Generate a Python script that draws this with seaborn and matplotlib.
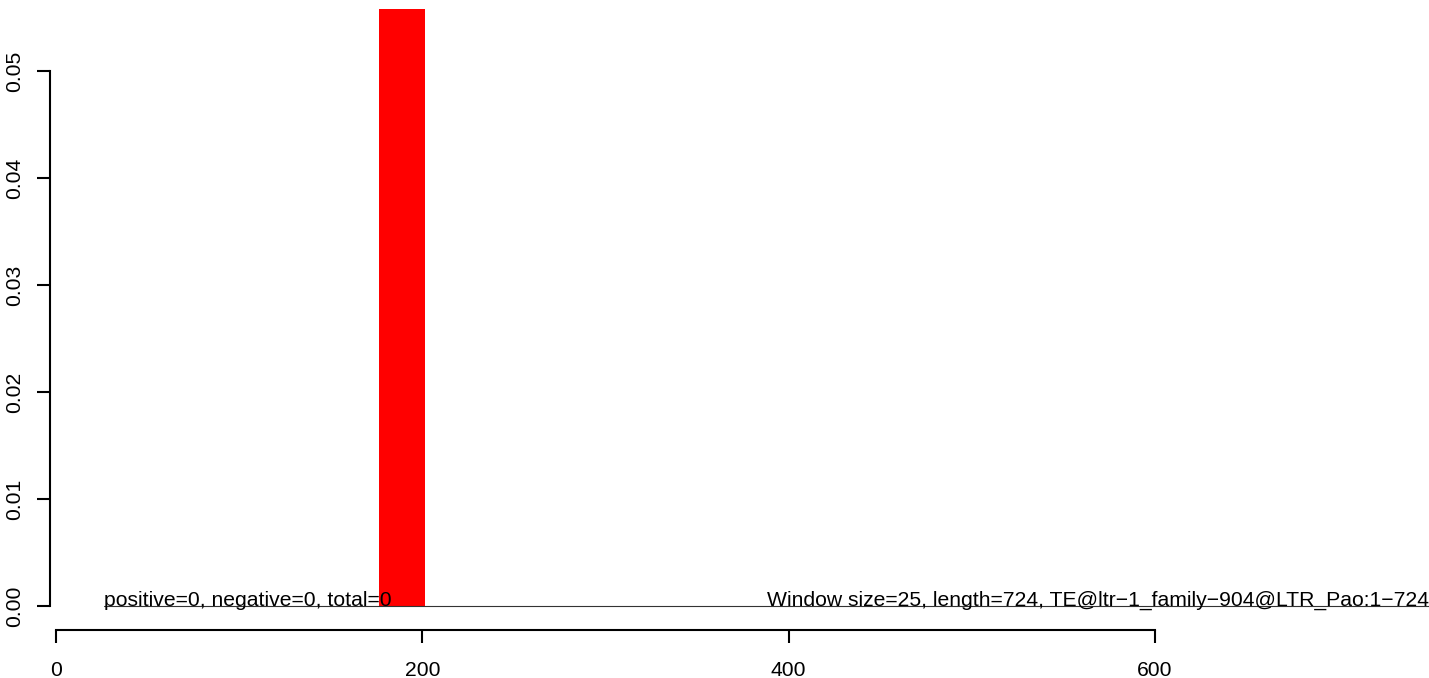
import matplotlib
matplotlib.use("Agg")
import matplotlib.pyplot as plt
import seaborn as sns

# Data
line_x = [26, 750]          # coverage trace across the element
line_y = [0.0, 0.0]
bar_left = [176.5]          # single window hit
bar_width = 25
bar_height = [0.06]         # goes past the top of the plot region
x_ticks = [0, 200, 400, 600]
y_ticks = [0.00, 0.01, 0.02, 0.03, 0.04, 0.05]
left_text = "positive=0, negative=0, total=0"
right_text = "Window size=25, length=724, TE@ltr\u22121_family\u2212904@LTR_Pao:1\u2212724"

sns.set_style("white")
plt.rcParams['font.family'] = ['Liberation Sans', 'DejaVu Sans']
plt.rcParams['text.color'] = 'black'

fig = plt.figure(figsize=(14.29, 6.78), dpi=100)
ax = fig.add_axes([0, 48 / 678, 1, 621 / 678])

ax.bar(bar_left, bar_height, width=bar_width, align='edge', color='#ff0000', linewidth=0)
sns.lineplot(x=line_x, y=line_y, ax=ax, color='#333333', linewidth=0.8)

ax.set_xlim(-30.57, 749.6)
ax.set_ylim(-0.002243, 0.05579)

ax.text(26.2, 0, left_text, ha='left', va='baseline', fontsize=15.2, color='black')
ax.text(749.5, 0, right_text, ha='right', va='baseline', fontsize=15.2, color='black')

# R-style detached axes
for s in ['top', 'right']:
    ax.spines[s].set_visible(False)
ax.spines['left'].set_position(('data', -3.3))
ax.spines['left'].set_bounds(0, 0.05)
ax.spines['bottom'].set_bounds(0, 600)
for s in ['left', 'bottom']:
    ax.spines[s].set_linewidth(1.5)
    ax.spines[s].set_color('black')

ax.set_xticks(x_ticks)
ax.set_xticklabels([str(t) for t in x_ticks])
ax.set_yticks(y_ticks)
ax.set_yticklabels(['%.2f' % t for t in y_ticks], rotation=90, va='center')
ax.tick_params(axis='both', direction='out', length=9.5, width=1.5, colors='black',
               labelsize=15.2, left=True, bottom=True)
ax.tick_params(axis='x', pad=13)
ax.tick_params(axis='y', pad=9)
ax.set_xlabel('')
ax.set_ylabel('')

fig.savefig('out.png', dpi=100)
